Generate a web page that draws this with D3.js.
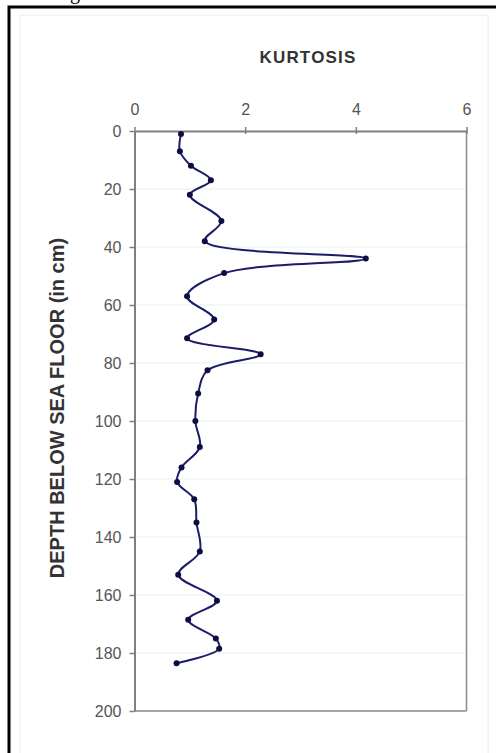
<!DOCTYPE html>
<html>
<head>
<meta charset="utf-8">
<script src="https://cdn.jsdelivr.net/npm/d3@7"></script>
<style>
html,body{margin:0;padding:0;background:#fff;}
svg{display:block;}
</style>
</head>
<body>
<svg id="chart" width="496" height="753"></svg>
<script>
// Data (depth below sea floor in cm, kurtosis)
const depths   = [1, 7, 12, 17, 22, 31, 38, 44, 49, 57, 65, 71.5, 77, 82.5, 90.5, 100, 109, 116, 121, 127, 135, 145, 153, 162, 168.5, 175, 178.5, 183.5];
const kurtosis = [0.84, 0.82, 1.02, 1.38, 1.0, 1.57, 1.27, 4.18, 1.62, 0.95, 1.44, 0.95, 2.28, 1.32, 1.15, 1.1, 1.18, 0.85, 0.77, 1.08, 1.12, 1.18, 0.79, 1.49, 0.97, 1.47, 1.53, 0.76];
const xTicks = [0, 2, 4, 6];
const yTicks = [0, 20, 40, 60, 80, 100, 120, 140, 160, 180, 200];
const titleText = "KURTOSIS";
const yLabelText = "DEPTH BELOW SEA FLOOR (in cm)";

const svg = d3.select("#chart");
const W = 496, H = 753;

// outer frame
svg.append("rect").attr("x", 9).attr("y", 7).attr("width", 500).attr("height", 800)
  .attr("fill", "#fff").attr("stroke", "#000").attr("stroke-width", 3);
svg.append("rect").attr("x", 20).attr("y", 15).attr("width", 468).attr("height", 760)
  .attr("fill", "none").attr("stroke", "#ececec").attr("stroke-width", 1);

// partial caption glyph at very top
svg.append("text").attr("x", 70).attr("y", -1)
  .attr("font-family", "Liberation Serif, Times New Roman, serif").attr("font-size", 20)
  .attr("fill", "#000").text("g");

const x = d3.scaleLinear().domain([0, 6]).range([134.5, 466.5]);
const y = d3.scaleLinear().domain([0, 200]).range([131, 711]);

// faint gridlines
svg.append("g").selectAll("line").data(yTicks.slice(1, -1)).join("line")
  .attr("x1", x(0)).attr("x2", x(6))
  .attr("y1", d => y(d)).attr("y2", d => y(d))
  .attr("stroke", "#e9efef").attr("stroke-width", 1.2);

// plot border right/bottom
svg.append("line").attr("x1", x(6)).attr("x2", x(6)).attr("y1", y(0)).attr("y2", y(200))
  .attr("stroke", "#8a8a8a").attr("stroke-width", 1.5);
svg.append("line").attr("x1", x(0)).attr("x2", x(6)).attr("y1", y(200)).attr("y2", y(200))
  .attr("stroke", "#8a8a8a").attr("stroke-width", 1.5);

// top axis
const gx = svg.append("g").attr("transform", `translate(0,${y(0)})`)
  .call(d3.axisTop(x).tickValues(xTicks).tickFormat(d3.format("d")).tickSizeInner(4).tickSizeOuter(0).tickPadding(12));
gx.select(".domain").attr("stroke", "#808080").attr("stroke-width", 2);
gx.selectAll(".tick line").attr("y1", 3).attr("stroke", "#808080").attr("stroke-width", 1.5);
gx.selectAll(".tick text").attr("fill", "#555").attr("font-size", 16)
  .attr("font-family", "Liberation Sans, Arial, sans-serif");

// left axis
const gy = svg.append("g").attr("transform", `translate(${x(0)},0)`)
  .call(d3.axisLeft(y).tickValues(yTicks).tickFormat(d3.format("d")).tickSizeInner(5).tickSizeOuter(0).tickPadding(8));
gy.select(".domain").attr("stroke", "#808080").attr("stroke-width", 2);
gy.selectAll(".tick line").attr("stroke", "#808080").attr("stroke-width", 1.5);
gy.selectAll(".tick text").attr("fill", "#555").attr("font-size", 16)
  .attr("font-family", "Liberation Sans, Arial, sans-serif");

// title
svg.append("text").attr("x", 308).attr("y", 63).attr("text-anchor", "middle")
  .attr("font-family", "Liberation Sans, Arial, sans-serif").attr("font-weight", "bold")
  .attr("font-size", 17).attr("letter-spacing", 1.2).attr("fill", "#333").text(titleText);

// y label
svg.append("text").attr("transform", "translate(64,408) rotate(-90)").attr("text-anchor", "middle")
  .attr("font-family", "Liberation Sans, Arial, sans-serif").attr("font-weight", "bold")
  .attr("font-size", 20).attr("fill", "#333").text(yLabelText);

// series
const pts = depths.map((d, i) => ({depth: d, k: kurtosis[i]}));
const line = d3.line().x(d => x(d.k)).y(d => y(d.depth)).curve(d3.curveCatmullRom.alpha(0.5));
svg.append("path").datum(pts).attr("d", line)
  .attr("fill", "none").attr("stroke", "#1c1c6b").attr("stroke-width", 2);
svg.append("g").selectAll("circle").data(pts).join("circle")
  .attr("cx", d => x(d.k)).attr("cy", d => y(d.depth)).attr("r", 3)
  .attr("fill", "#0d0d40");
</script>
</body>
</html>
